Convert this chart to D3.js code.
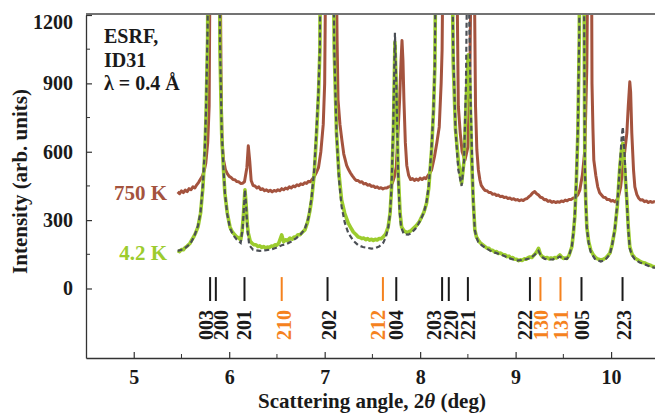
<!DOCTYPE html>
<html>
<head>
<meta charset="utf-8">
<script src="https://cdn.jsdelivr.net/npm/d3@7"></script>
<style>
  body { margin: 0; background: #fff; }
  svg text { font-family: "Liberation Serif", "Times New Roman", serif; font-weight: bold; }
</style>
</head>
<body>
<div id="chart"></div>
<script>
// 750 K pattern: [2theta (deg), intensity]
const data750 = [
  [5.46, 424], [5.48, 416], [5.50, 428], [5.52, 421], [5.54, 432], [5.56, 425], [5.58, 438], [5.60, 433],
  [5.62, 446], [5.64, 441], [5.66, 455], [5.68, 466], [5.70, 480], [5.72, 494], [5.74, 520], [5.755, 551],
  [5.775, 640], [5.79, 800], [5.80, 1500], [5.81, 2500], [5.83, 3000], [5.86, 3000], [5.89, 2500],
  [5.905, 1500], [5.915, 900], [5.925, 640], [5.94, 566], [5.96, 522], [5.98, 504], [6.00, 492],
  [6.02, 487], [6.04, 478], [6.06, 477], [6.08, 469], [6.10, 468], [6.12, 461], [6.14, 462], [6.16, 468],
  [6.185, 530], [6.20, 626], [6.215, 560], [6.23, 474], [6.25, 452], [6.27, 450], [6.29, 441], [6.31, 446],
  [6.33, 434], [6.35, 438], [6.37, 429], [6.39, 433], [6.41, 426], [6.43, 431], [6.45, 424], [6.47, 430],
  [6.49, 427], [6.51, 433], [6.53, 429], [6.55, 438], [6.57, 433], [6.59, 441], [6.61, 437], [6.63, 446],
  [6.65, 441], [6.67, 450], [6.69, 446], [6.71, 455], [6.73, 451], [6.75, 459], [6.77, 456], [6.79, 464],
  [6.81, 461], [6.83, 470], [6.85, 468], [6.87, 480], [6.89, 490], [6.91, 506], [6.935, 530], [6.96, 600],
  [6.985, 720], [7.00, 900], [7.01, 1400], [7.03, 2500], [7.06, 3000], [7.10, 2500], [7.12, 1500],
  [7.13, 1091], [7.14, 828], [7.16, 720], [7.18, 652], [7.20, 590], [7.23, 540], [7.25, 522], [7.27, 507],
  [7.29, 494], [7.31, 483], [7.33, 474], [7.35, 474], [7.37, 466], [7.39, 468], [7.41, 459], [7.43, 461],
  [7.45, 453], [7.47, 456], [7.49, 448], [7.51, 450], [7.53, 443], [7.55, 446], [7.57, 439], [7.59, 442],
  [7.61, 437], [7.63, 441], [7.65, 441], [7.67, 446], [7.69, 448], [7.71, 464], [7.73, 490], [7.75, 534],
  [7.77, 700], [7.785, 828], [7.80, 1000], [7.81, 1088], [7.82, 1000], [7.83, 828], [7.845, 640],
  [7.86, 540], [7.88, 496], [7.90, 478], [7.92, 482], [7.94, 474], [7.96, 480], [7.98, 475], [8.00, 484],
  [8.02, 478], [8.04, 486], [8.06, 482], [8.08, 494], [8.10, 506], [8.12, 520], [8.15, 578], [8.175, 640],
  [8.20, 709], [8.22, 900], [8.23, 1047], [8.24, 1500], [8.27, 3000], [8.33, 3000], [8.38, 2500],
  [8.39, 1200], [8.40, 800], [8.42, 682], [8.44, 600], [8.47, 564], [8.50, 620], [8.52, 900], [8.535, 1500],
  [8.55, 2500], [8.565, 1500], [8.58, 800], [8.594, 608], [8.61, 520], [8.626, 476], [8.64, 452],
  [8.66, 440], [8.68, 430], [8.70, 429], [8.72, 421], [8.74, 421], [8.76, 413], [8.78, 415], [8.80, 408],
  [8.82, 410], [8.84, 403], [8.86, 405], [8.88, 399], [8.90, 401], [8.92, 395], [8.94, 397], [8.96, 391],
  [8.98, 394], [9.00, 388], [9.02, 390], [9.04, 385], [9.06, 389], [9.08, 386], [9.10, 392], [9.12, 395],
  [9.14, 403], [9.16, 410], [9.18, 420], [9.20, 425], [9.22, 416], [9.24, 410], [9.26, 400], [9.28, 398],
  [9.30, 389], [9.32, 390], [9.34, 382], [9.36, 385], [9.38, 378], [9.40, 382], [9.42, 377], [9.44, 381],
  [9.46, 378], [9.48, 384], [9.50, 381], [9.52, 388], [9.54, 385], [9.56, 391], [9.58, 390], [9.60, 396],
  [9.62, 398], [9.65, 410], [9.673, 433], [9.70, 500], [9.725, 608], [9.746, 973], [9.757, 1500],
  [9.77, 2500], [9.785, 2500], [9.795, 1500], [9.80, 900], [9.81, 700], [9.819, 564], [9.84, 496],
  [9.86, 446], [9.88, 420], [9.90, 410], [9.92, 400], [9.94, 399], [9.96, 390], [9.98, 391], [10.00, 383],
  [10.02, 386], [10.04, 380], [10.06, 388], [10.08, 408], [10.10, 446], [10.12, 520], [10.14, 590],
  [10.165, 682], [10.18, 800], [10.196, 907], [10.205, 860], [10.217, 682], [10.235, 520], [10.249, 446],
  [10.27, 412], [10.29, 396], [10.31, 388], [10.33, 389], [10.35, 381], [10.37, 384], [10.39, 377],
  [10.41, 382], [10.43, 378], [10.45, 381], [10.46, 379]
];

// 4.2 K pattern
const data42 = [
  [5.46, 166], [5.48, 162], [5.50, 171], [5.52, 170], [5.54, 180], [5.56, 186], [5.59, 199], [5.61, 214],
  [5.63, 228], [5.65, 246], [5.673, 270], [5.70, 330], [5.725, 446], [5.745, 600], [5.757, 753],
  [5.774, 1100], [5.785, 2500], [5.80, 3000], [5.88, 3000], [5.895, 2000], [5.903, 1047], [5.921, 682],
  [5.94, 520], [5.955, 417], [5.98, 330], [6.008, 270], [6.03, 250], [6.05, 240], [6.078, 226],
  [6.10, 222], [6.12, 213], [6.135, 250], [6.15, 330], [6.165, 433], [6.175, 380], [6.19, 280],
  [6.20, 243], [6.22, 208], [6.24, 198], [6.26, 192], [6.28, 192], [6.30, 184], [6.32, 187], [6.34, 180],
  [6.36, 184], [6.38, 178], [6.40, 182], [6.42, 180], [6.44, 186], [6.46, 184], [6.48, 192], [6.50, 190],
  [6.52, 200], [6.55, 235], [6.57, 205], [6.59, 214], [6.61, 210], [6.636, 221], [6.66, 216], [6.68, 226],
  [6.70, 226], [6.72, 236], [6.741, 236], [6.77, 248], [6.793, 257], [6.82, 290], [6.845, 340],
  [6.863, 389], [6.89, 500], [6.915, 682], [6.935, 850], [6.95, 1047], [6.96, 2000], [6.98, 3000],
  [7.06, 3000], [7.08, 2000], [7.10, 1047], [7.124, 682], [7.15, 500], [7.177, 389], [7.21, 330],
  [7.247, 287], [7.28, 262], [7.30, 248], [7.33, 236], [7.351, 226], [7.37, 224], [7.39, 219],
  [7.41, 221], [7.43, 214], [7.45, 219], [7.47, 212], [7.492, 216], [7.51, 211], [7.53, 216],
  [7.55, 213], [7.57, 219], [7.59, 218], [7.613, 226], [7.64, 240], [7.665, 270], [7.685, 330],
  [7.701, 446], [7.72, 700], [7.736, 1080], [7.75, 880], [7.77, 506], [7.79, 330], [7.806, 270],
  [7.83, 254], [7.855, 246], [7.875, 248], [7.90, 252], [7.93, 264], [7.96, 276], [7.99, 292],
  [8.015, 314], [8.04, 336], [8.067, 374], [8.09, 440], [8.12, 608], [8.14, 780], [8.154, 973],
  [8.165, 1500], [8.18, 3000], [8.32, 3000], [8.335, 1500], [8.346, 1000], [8.37, 700], [8.40, 560],
  [8.434, 462], [8.46, 560], [8.48, 800], [8.503, 1025], [8.52, 900], [8.54, 560], [8.556, 389],
  [8.573, 257], [8.59, 226], [8.608, 213], [8.63, 200], [8.66, 190], [8.696, 178], [8.72, 176],
  [8.74, 168], [8.76, 168], [8.78, 160], [8.80, 162], [8.82, 154], [8.84, 156], [8.87, 148], [8.89, 148],
  [8.91, 140], [8.93, 142], [8.95, 134], [8.97, 136], [8.99, 128], [9.013, 128], [9.03, 122],
  [9.05, 126], [9.07, 123], [9.09, 130], [9.11, 128], [9.13, 135], [9.149, 138], [9.17, 136],
  [9.20, 150], [9.22, 160], [9.24, 176], [9.26, 150], [9.28, 140], [9.306, 134], [9.33, 136],
  [9.35, 130], [9.37, 134], [9.39, 131], [9.41, 136], [9.43, 134], [9.463, 147], [9.48, 139],
  [9.50, 132], [9.52, 134], [9.537, 132], [9.56, 146], [9.589, 183], [9.605, 240], [9.62, 315],
  [9.637, 480], [9.652, 682], [9.667, 1100], [9.672, 2000], [9.68, 3000], [9.705, 3000], [9.715, 1500],
  [9.725, 535], [9.735, 380], [9.746, 270], [9.765, 205], [9.787, 169], [9.81, 150], [9.84, 134],
  [9.86, 130], [9.892, 125], [9.92, 128], [9.95, 136], [9.987, 155], [10.01, 190], [10.039, 257],
  [10.065, 360], [10.092, 535], [10.11, 610], [10.123, 637], [10.14, 540], [10.165, 389], [10.18, 270],
  [10.196, 183], [10.22, 150], [10.249, 134], [10.27, 128], [10.30, 120], [10.33, 114], [10.353, 112],
  [10.38, 106], [10.41, 102], [10.43, 98], [10.46, 95]
];

// calculated profile (dashed)
const dataFit = [
  [5.46, 165], [5.52, 172], [5.59, 195], [5.63, 225], [5.673, 275], [5.70, 335], [5.725, 460],
  [5.745, 620], [5.757, 780], [5.774, 1150], [5.785, 2500], [5.80, 3000], [5.88, 3000], [5.895, 2000],
  [5.903, 1100], [5.921, 700], [5.94, 525], [5.955, 420], [5.98, 325], [6.008, 265], [6.04, 236],
  [6.078, 215], [6.12, 200], [6.14, 260], [6.155, 360], [6.165, 433], [6.178, 360], [6.19, 260],
  [6.21, 190], [6.25, 170], [6.32, 165], [6.39, 168], [6.45, 172], [6.50, 180], [6.55, 190],
  [6.60, 195], [6.65, 206], [6.70, 220], [6.75, 238], [6.793, 262], [6.83, 310], [6.863, 400],
  [6.89, 520], [6.915, 700], [6.935, 870], [6.95, 1060], [6.96, 2000], [6.98, 3000], [7.06, 3000],
  [7.08, 2000], [7.10, 1060], [7.124, 680], [7.15, 480], [7.177, 360], [7.21, 290], [7.247, 243],
  [7.30, 210], [7.351, 190], [7.40, 182], [7.45, 178], [7.49, 175], [7.526, 176], [7.57, 184],
  [7.613, 200], [7.64, 225], [7.665, 265], [7.685, 330], [7.701, 450], [7.72, 750], [7.736, 1122],
  [7.75, 900], [7.77, 500], [7.785, 340], [7.80, 270], [7.83, 238], [7.875, 236], [7.91, 244],
  [7.95, 262], [7.98, 282], [8.015, 310], [8.04, 335], [8.067, 380], [8.09, 450], [8.12, 620],
  [8.14, 790], [8.154, 990], [8.165, 1500], [8.18, 3000], [8.32, 3000], [8.335, 1500], [8.346, 1050],
  [8.37, 700], [8.40, 520], [8.434, 450], [8.46, 560], [8.48, 900], [8.49, 1300], [8.50, 3000],
  [8.51, 1300], [8.53, 800], [8.556, 380], [8.573, 255], [8.59, 225], [8.608, 205], [8.65, 188],
  [8.696, 175], [8.75, 162], [8.80, 155], [8.87, 145], [8.94, 132], [9.01, 122], [9.08, 126],
  [9.149, 132], [9.2, 148], [9.24, 165], [9.27, 140], [9.306, 130], [9.35, 127], [9.39, 128],
  [9.43, 132], [9.463, 140], [9.50, 130], [9.537, 130], [9.56, 144], [9.589, 185], [9.605, 245],
  [9.62, 320], [9.637, 490], [9.652, 700], [9.667, 1150], [9.672, 2000], [9.68, 3000], [9.705, 3000],
  [9.715, 1500], [9.725, 540], [9.735, 375], [9.746, 265], [9.765, 200], [9.787, 160], [9.83, 130],
  [9.892, 118], [9.94, 126], [9.987, 150], [10.01, 188], [10.039, 260], [10.065, 370], [10.092, 540],
  [10.11, 660], [10.123, 709], [10.14, 600], [10.165, 380], [10.18, 260], [10.196, 175], [10.22, 145],
  [10.249, 128], [10.30, 114], [10.353, 106], [10.40, 98], [10.46, 90]
];

// Bragg reflections
const hkl      = ["003", "200", "201", "210", "202", "212", "004", "203", "220", "221", "222", "130", "131", "005", "223"];
const hklPos   = [5.80, 5.86, 6.16, 6.55, 7.03, 7.61, 7.75, 8.23, 8.30, 8.50, 9.15, 9.26, 9.47, 9.69, 10.12];
const hklPhase = [0, 0, 0, 1, 0, 1, 0, 0, 0, 0, 0, 1, 1, 0, 0];
// label nudges (px) where neighbouring labels would collide
const hklNudge = [-4, 5, 0, 2, 1, -5, 0, -8, 2, 0, -5, 1, 1, 1, 1];

const xTicks = [5, 6, 7, 8, 9, 10];
const xMinor = [5.5, 6.5, 7.5, 8.5, 9.5];
const yTicks = [0, 300, 600, 900, 1200];
const yMinor = [150, 450, 750, 1050];

const W = 655, H = 416;
const mLeft = 86, mTop = 15, mBottom = 358;

const svg = d3.select("#chart").append("svg")
    .attr("width", W).attr("height", H);

const x = d3.scaleLinear().domain([4.5, 10.46]).range([mLeft, W]);
const y = d3.scaleLinear().domain([-305, 1200]).range([mBottom, mTop]);

svg.append("defs").append("clipPath").attr("id", "plotclip")
  .append("rect").attr("x", mLeft).attr("y", mTop).attr("width", W - mLeft).attr("height", mBottom - mTop);

const line = d3.line().x(d => x(d[0])).y(d => y(d[1]));
const curves = svg.append("g").attr("clip-path", "url(#plotclip)");

curves.append("path").datum(data750)
    .attr("fill", "none").attr("stroke", "#a4533e").attr("stroke-width", 3)
    .attr("stroke-linejoin", "round").attr("d", line);

curves.append("path").datum(data42)
    .attr("fill", "none").attr("stroke", "#9ccc2e").attr("stroke-width", 3.6)
    .attr("stroke-linejoin", "round").attr("d", line);

curves.append("path").datum(dataFit)
    .attr("fill", "none").attr("stroke", "#4b4f55").attr("stroke-width", 2.2)
    .attr("stroke-dasharray", "5,3").attr("d", line);

// axes (ticks point inward)
const xAxis = svg.append("g").attr("transform", `translate(0,${mBottom})`)
    .call(d3.axisBottom(x).tickValues(xTicks).tickFormat(d3.format("d"))
      .tickSizeInner(-6).tickSizeOuter(0).tickPadding(12));
xAxis.append("g").selectAll("line").data(xMinor).join("line")
    .attr("x1", d => x(d)).attr("x2", d => x(d)).attr("y1", 0).attr("y2", -4)
    .attr("stroke", "#333");

const yAxis = svg.append("g").attr("transform", `translate(${mLeft},0)`)
    .call(d3.axisLeft(y).tickValues(yTicks).tickFormat(d3.format("d"))
      .tickSizeInner(-6).tickSizeOuter(0).tickPadding(13));
yAxis.append("g").selectAll("line").data(yMinor).join("line")
    .attr("y1", d => y(d)).attr("y2", d => y(d)).attr("x1", 0).attr("x2", 4)
    .attr("stroke", "#333");
// top label sits a little lower than its tick
yAxis.selectAll(".tick text").filter(d => d === 1200).attr("dy", "0.65em");

[xAxis, yAxis].forEach(a => {
  a.select(".domain").attr("stroke", "#333").attr("stroke-width", 1.3);
  a.selectAll(".tick line").attr("stroke", "#333").attr("stroke-width", 1.2);
  a.selectAll(".tick text").attr("font-size", 20).attr("fill", "#1a1a1a")
    .attr("font-family", "'Liberation Serif', 'Times New Roman', serif").attr("font-weight", "bold");
});

// top frame line
svg.append("line").attr("x1", mLeft).attr("x2", W).attr("y1", mTop - 1).attr("y2", mTop - 1)
    .attr("stroke", "#444").attr("stroke-width", 1.3);

// reflection markers
const refl = svg.append("g");
hkl.forEach((h, i) => {
  const px = x(hklPos[i]);
  const col = hklPhase[i] ? "#f5821e" : "#1a1a1a";
  refl.append("line").attr("x1", px).attr("x2", px)
      .attr("y1", y(50)).attr("y2", y(-55))
      .attr("stroke", col).attr("stroke-width", 2);
  refl.append("text")
      .attr("transform", `translate(${px + hklNudge[i] + 7},${y(-160)}) rotate(-90)`)
      .attr("text-anchor", "middle").attr("font-size", 20).attr("fill", col)
      .text(h);
});

// annotations
const info = svg.append("g").attr("font-size", 20).attr("fill", "#1a1a1a");
info.append("text").attr("x", 104).attr("y", 43).text("ESRF,");
info.append("text").attr("x", 104).attr("y", 67).text("ID31");
info.append("text").attr("x", 104).attr("y", 90).text("λ = 0.4 Å");

svg.append("text").attr("x", 167).attr("y", 200).attr("text-anchor", "end")
    .attr("font-size", 21).attr("fill", "#a4533e").text("750 K");
svg.append("text").attr("x", 167).attr("y", 260).attr("text-anchor", "end")
    .attr("font-size", 21).attr("fill", "#9ccc2e").text("4.2 K");

// axis titles
svg.append("text")
    .attr("transform", `translate(27,${(mTop + mBottom) / 2 - 5}) rotate(-90)`)
    .attr("text-anchor", "middle").attr("font-size", 21).attr("fill", "#1a1a1a")
    .text("Intensity (arb. units)");

const xt = svg.append("text").attr("x", 372).attr("y", 408)
    .attr("text-anchor", "middle").attr("font-size", 21).attr("fill", "#1a1a1a");
xt.append("tspan").text("Scattering angle, 2");
xt.append("tspan").attr("font-style", "italic").text("θ");
xt.append("tspan").text(" (deg)");
</script>
</body>
</html>
